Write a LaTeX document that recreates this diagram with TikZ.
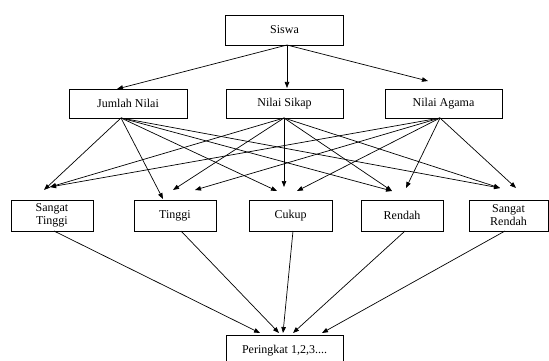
\documentclass[tikz,border=0pt]{standalone}
\usepackage{fontspec}
\setmainfont{Liberation Serif}
\usetikzlibrary{arrows.meta}
\begin{document}
\begin{tikzpicture}[x=1pt,y=-1pt,
  box/.style={draw,line width=0.8pt,inner sep=0pt,align=center,font=\fontsize{12}{13}\selectfont},
  arr/.style={line width=0.7pt,-{Triangle[length=6pt,width=4.5pt]}}]
\useasboundingbox (0,0) rectangle (549,361);
% nodes
\node[box,minimum width=118pt,minimum height=30pt] (siswa) at (284.5,30) {Siswa};
\node[box,minimum width=118pt,minimum height=29pt] (jn) at (128,103.5) {Jumlah Nilai};
\node[box,minimum width=117pt,minimum height=29pt] (ns) at (284.5,103.5) {Nilai Sikap};
\node[box,minimum width=117pt,minimum height=29pt] (na) at (443.5,103.5) {Nilai Agama};
\node[box,minimum width=82pt,minimum height=31pt] (st) at (52,215.5) {Sangat\\Tinggi};
\node[box,minimum width=82pt,minimum height=31pt] (ti) at (175,215.5) {Tinggi};
\node[box,minimum width=83pt,minimum height=31pt] (cu) at (290.5,215.5) {Cukup};
\node[box,minimum width=82pt,minimum height=31pt] (re) at (402,215.5) {Rendah};
\node[box,minimum width=79pt,minimum height=31pt] (sr) at (508.5,215.5) {Sangat\\Rendah};
\node[box,minimum width=117pt,minimum height=31pt] (pr) at (284.5,350.5) {Peringkat 1,2,3....};
% connector points
\coordinate (s0) at (287,45);
\coordinate (tJ) at (117,89);
\coordinate (tS) at (287,88);
\coordinate (tA) at (428,81);
\coordinate (jo) at (121,118);
\coordinate (so) at (284,118);
\coordinate (ao) at (440,118);
\coordinate (stJ) at (44,190);
\coordinate (stSA) at (50,187);
\coordinate (tiJ) at (163,199);
\coordinate (tiS) at (173,190);
\coordinate (tiA) at (195,190);
\coordinate (cuJ) at (277,191);
\coordinate (cuS) at (284,187);
\coordinate (cuA) at (297,191);
\coordinate (reJS) at (392,191);
\coordinate (reA) at (406,188);
\coordinate (srJS) at (500,188);
\coordinate (srA) at (516,188);
\coordinate (sto) at (54,231);
\coordinate (tio) at (181,231);
\coordinate (cuo) at (293,231);
\coordinate (reo) at (405,231);
\coordinate (sro) at (505,231);
\coordinate (p1) at (260,333);
\coordinate (p2) at (279,333);
\coordinate (p3) at (283,333);
\coordinate (p4) at (293,333);
\coordinate (p5) at (322,333);
% arrows
\draw[arr] (s0) -- (tJ);
\draw[arr] (s0) -- (tS);
\draw[arr] (s0) -- (tA);
\draw[arr] (jo) -- (stJ);
\draw[arr] (jo) -- (tiJ);
\draw[arr] (jo) -- (cuJ);
\draw[arr] (jo) -- (reJS);
\draw[arr] (jo) -- (srJS);
\draw[arr] (so) -- (stSA);
\draw[arr] (so) -- (tiS);
\draw[arr] (so) -- (cuS);
\draw[arr] (so) -- (reJS);
\draw[arr] (so) -- (srJS);
\draw[arr] (ao) -- (stSA);
\draw[arr] (ao) -- (tiA);
\draw[arr] (ao) -- (cuA);
\draw[arr] (ao) -- (reA);
\draw[arr] (ao) -- (srA);
\draw[arr] (sto) -- (p1);
\draw[arr] (tio) -- (p2);
\draw[arr] (cuo) -- (p3);
\draw[arr] (reo) -- (p4);
\draw[arr] (sro) -- (p5);
\end{tikzpicture}
\end{document}
